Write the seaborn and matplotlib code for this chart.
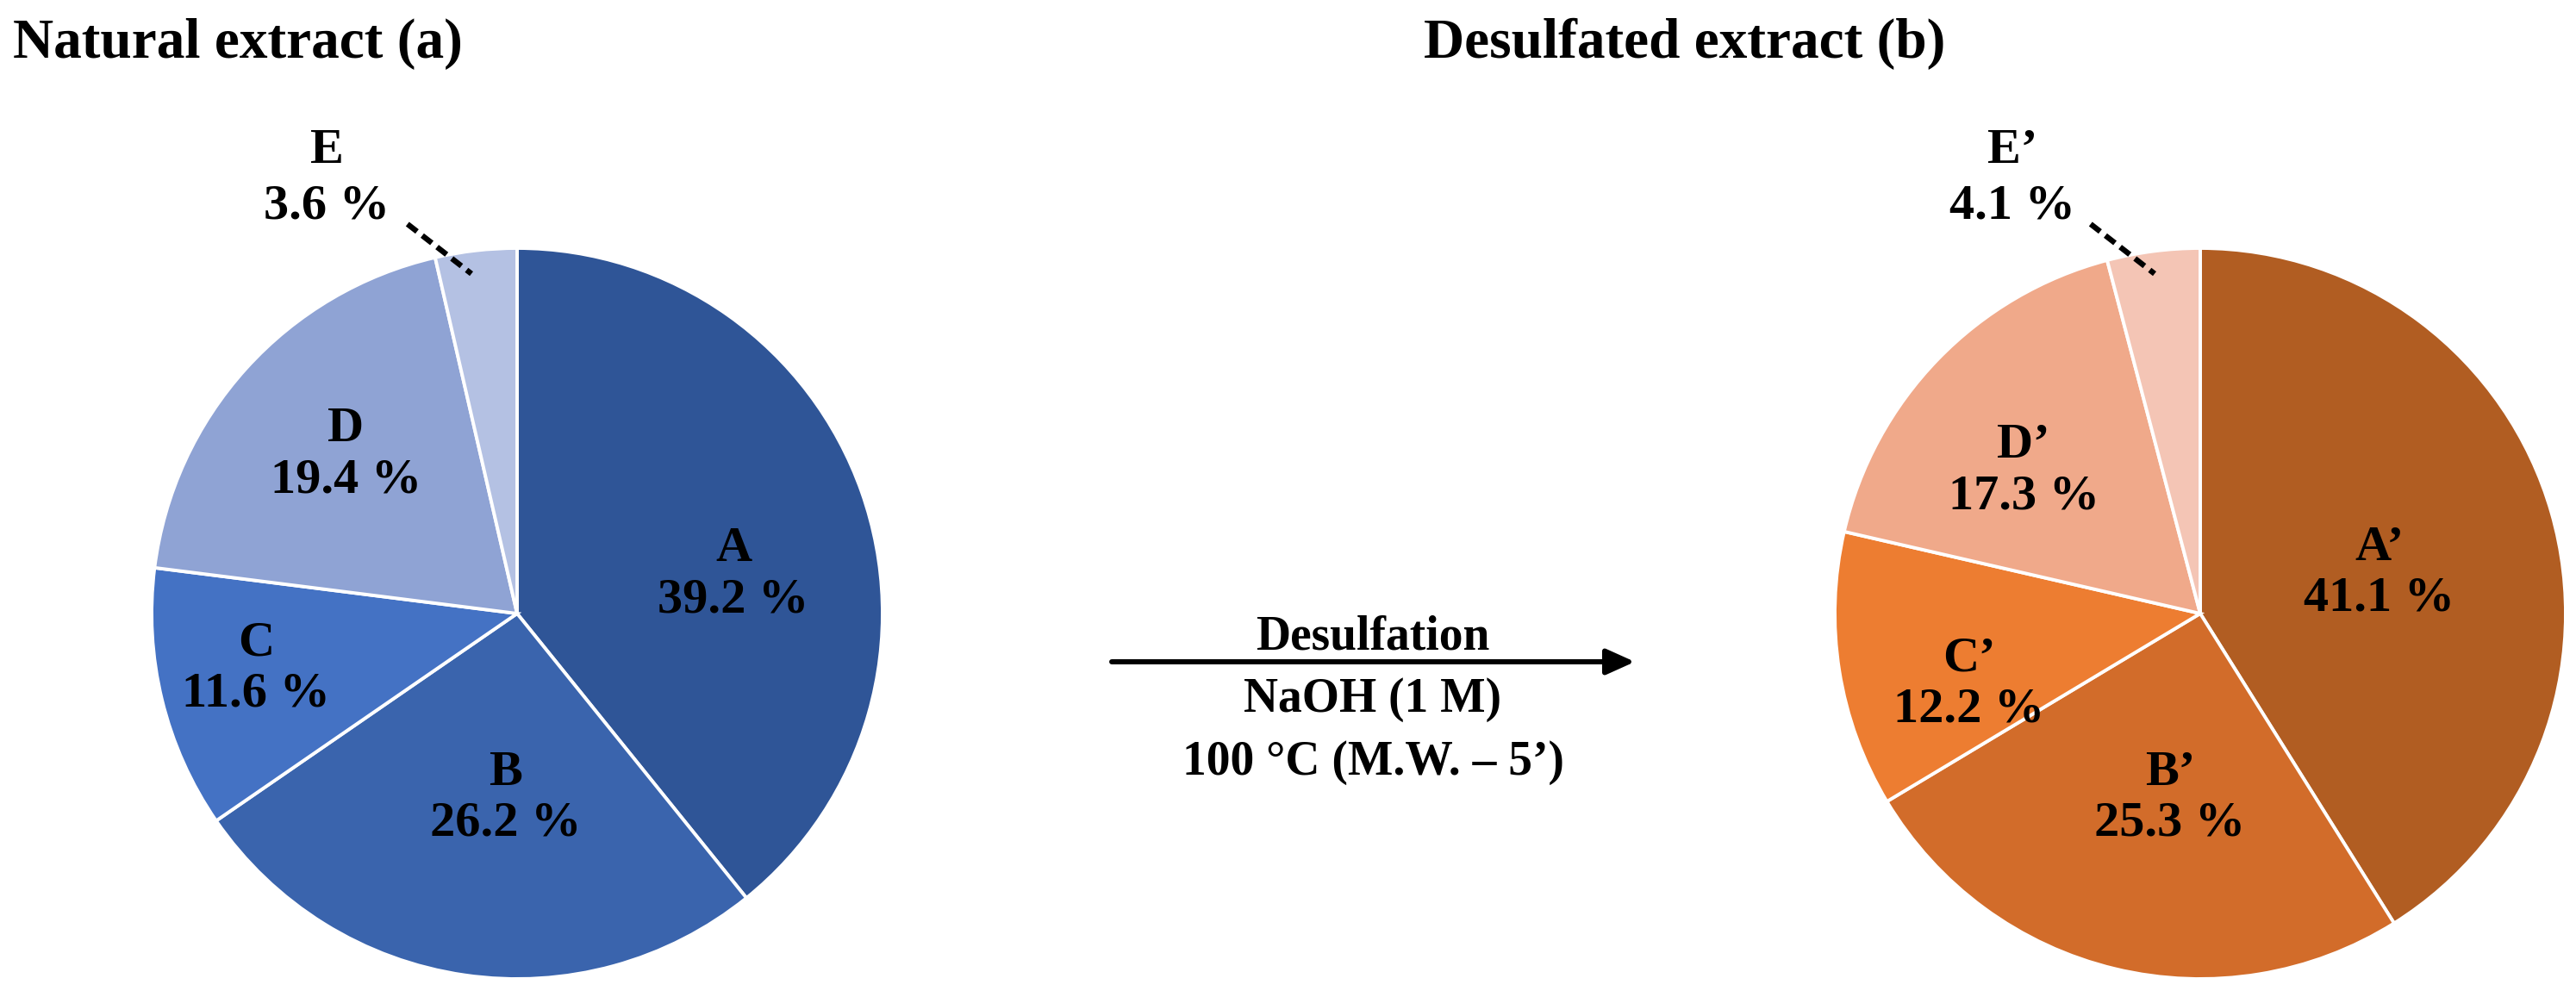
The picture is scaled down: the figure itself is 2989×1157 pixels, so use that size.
import matplotlib
matplotlib.use('Agg')
import matplotlib.pyplot as plt
import seaborn as sns
import warnings
warnings.filterwarnings('ignore')

# data
natural_labels = ['A', 'B', 'C', 'D', 'E']
natural_values = [39.2, 26.2, 11.6, 19.4, 3.6]
desulf_labels = ['A\u2019', 'B\u2019', 'C\u2019', 'D\u2019', 'E\u2019']
desulf_values = [41.1, 25.3, 12.2, 17.3, 4.1]

natural_colors = ['#2F5597', '#3A64AD', '#4472C4', '#8FA3D4', '#B4C1E3']
desulf_colors = ['#B15D22', '#D26C2A', '#ED7D31', '#F0A98A', '#F4C5B5']

# label anchors (in pie radius units) for inner labels, last one is outside
natural_pos = [(0.592, 0.106), (-0.031, -0.505), (-0.715, -0.151), (-0.469, 0.434), (-0.52, 1.19)]
desulf_pos = [(0.49, 0.11), (-0.083, -0.505), (-0.632, -0.193), (-0.483, 0.389), (-0.514, 1.19)]

sns.set_theme(style='white')
plt.rcParams['font.family'] = ['Liberation Serif', 'DejaVu Serif']
plt.rcParams['text.color'] = 'black'

W, H = 2989, 1157
fig = plt.figure(figsize=(W / 100, H / 100), dpi=100)
fig.patch.set_facecolor('white')

R = 424


def drawPie(cx, cy, values, labels, colors, positions):
    ax = fig.add_axes([(cx - R) / W, (H - cy - R) / H, 2 * R / W, 2 * R / H])
    ax.pie(values, radius=1, startangle=90, counterclock=False,
           colors=sns.color_palette(colors),
           wedgeprops=dict(edgecolor='white', linewidth=2.8))
    ax.set_xlim(-1, 1)
    ax.set_ylim(-1, 1)
    ax.axis('off')
    for i, (lab, val) in enumerate(zip(labels, values)):
        x, y = positions[i]
        ls = 1.3 if i == len(values) - 1 else 1.18
        ax.text(x, y, f'{lab}\n{val:.1f} %', ha='center', va='center',
                fontsize=42, fontweight='bold', color='black',
                linespacing=ls, clip_on=False)
    # dashed leader for the small slice
    ax.plot([-0.30, -0.125], [1.066, 0.93], color='black', lw=4.6,
            ls=(0, (2.2, 1.2)), clip_on=False, dash_capstyle='butt')
    return ax


drawPie(600, 712, natural_values, natural_labels, natural_colors, natural_pos)
drawPie(2553, 712, desulf_values, desulf_labels, desulf_colors, desulf_pos)

# overlay in pixel coordinates for titles and arrow
ov = fig.add_axes([0, 0, 1, 1], zorder=-1)
ov.set_xlim(0, W)
ov.set_ylim(H, 0)
ov.axis('off')

ov.text(15, 67, 'Natural extract (a)', ha='left', va='baseline',
        fontsize=47, fontweight='bold', color='black')
ov.text(1652, 67, 'Desulfated extract (b)', ha='left', va='baseline',
        fontsize=47, fontweight='bold', color='black')

ov.annotate('', xy=(1897, 768), xytext=(1290, 768),
            arrowprops=dict(arrowstyle='-|>,head_length=20,head_width=9',
                            mutation_scale=1, lw=4.3, color='black',
                            shrinkA=0, shrinkB=0))
ov.text(1593, 753, 'Desulfation', ha='center', va='baseline',
        fontsize=40, fontweight='bold', color='black')
ov.text(1593, 826, 'NaOH (1 M)', ha='center', va='baseline',
        fontsize=40, fontweight='bold', color='black')
ov.text(1593, 899, '100 \u00b0C (M.W. \u2013 5\u2019)', ha='center', va='baseline',
        fontsize=40, fontweight='bold', color='black')

fig.savefig('out.png', dpi=100, facecolor='white')
